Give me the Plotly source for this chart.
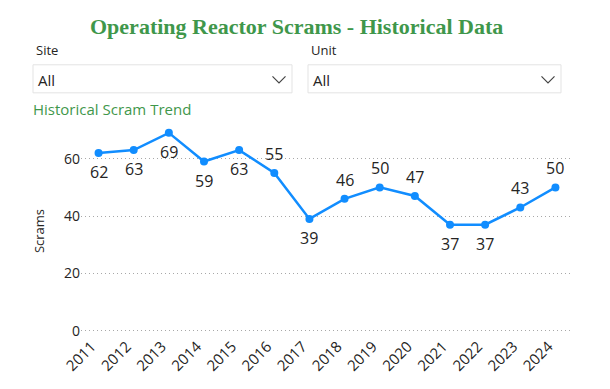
import plotly.graph_objects as go

years = ["2011", "2012", "2013", "2014", "2015", "2016", "2017",
         "2018", "2019", "2020", "2021", "2022", "2023", "2024"]
scrams = [62, 63, 69, 59, 63, 55, 39, 46, 50, 47, 37, 37, 43, 50]
label_side = ["below", "below", "below", "below", "below", "above", "below",
              "above", "above", "above", "below", "below", "above", "above"]

# page body has an 8px margin; work in screenshot pixels and convert
OFF = 8
W, H = 610 - OFF, 389 - OFF
YMIN, YMAX = -0.4, 70
L, R = 81 - OFF, 610 - 573
T = 130.1 - OFF
B = H - (331.75 - OFF)
pw, ph = W - L - R, H - T - B

def px(x):
    return (x - OFF - L) / pw

def py(y):
    return (H - B - (y - OFF)) / ph

GREEN = "#3f974b"
TXT = "#252423"
FONT = "Open Sans, Noto Sans, sans-serif"

fig = go.Figure()
fig.add_trace(go.Scatter(
    x=years, y=scrams, mode="lines+markers",
    line=dict(color="#118DFF", width=2.5),
    marker=dict(color="#118DFF", size=8),
    cliponaxis=False, hoverinfo="x+y",
))

shapes = []
annotations = []

# data labels (category axis: position by category index)
for i, (v, side) in enumerate(zip(scrams, label_side)):
    annotations.append(dict(x=i, y=v, xref="x", yref="y", text=str(v),
                            showarrow=False, xanchor="center", yanchor="middle",
                            yshift=19 if side == "above" else -19,
                            font=dict(family=FONT, size=16, color=TXT)))

# Title
annotations.append(dict(text="<b>Operating Reactor Scrams - Historical Data</b>",
                        x=px(296), y=py(27), xref="paper", yref="paper",
                        showarrow=False, xanchor="center", yanchor="middle",
                        font=dict(family="Liberation Serif, serif", size=22, color=GREEN)))
# Slicer labels
for lbl, x0 in (("Site", 34), ("Unit", 309)):
    annotations.append(dict(text=lbl, x=px(x0), y=py(50), xref="paper", yref="paper",
                            showarrow=False, xanchor="left", yanchor="middle",
                            font=dict(family=FONT, size=13, color=TXT)))
# Slicer boxes
for x0, x1 in ((33, 292), (308, 561)):
    shapes.append(dict(type="rect", xref="paper", yref="paper",
                       x0=px(x0), x1=px(x1), y0=py(93), y1=py(65),
                       line=dict(color="#e3e3e3", width=1), fillcolor="white"))
    annotations.append(dict(text="All", x=px(x0 + 3), y=py(80), xref="paper", yref="paper",
                            showarrow=False, xanchor="left", yanchor="middle",
                            font=dict(family=FONT, size=15, color=TXT)))
    cx = x1 - 13
    shapes.append(dict(type="path", xref="paper", yref="paper",
                       path=f"M {px(cx-6.5)} {py(76.5)} L {px(cx)} {py(83)} L {px(cx+6.5)} {py(76.5)}",
                       line=dict(color="#444444", width=1.2)))
# Subtitle
annotations.append(dict(text="Historical Scram Trend", x=px(31), y=py(109),
                        xref="paper", yref="paper", showarrow=False,
                        xanchor="left", yanchor="middle",
                        font=dict(family=FONT, size=15, color=GREEN)))

fig.update_layout(
    width=W, height=H, autosize=False,
    margin=dict(l=L, r=R, t=T, b=B, pad=0),
    paper_bgcolor="white", plot_bgcolor="white",
    showlegend=False,
    shapes=shapes, annotations=annotations,
    xaxis=dict(type="category", tickangle=-45, showgrid=False, showline=False,
               zeroline=False, ticks="", tickfont=dict(family=FONT, size=15, color=TXT),
               ticklabelshift=-7, ticklabelstandoff=2,
               range=[-0.5, len(years) - 0.5]),
    yaxis=dict(range=[YMIN, YMAX], tickvals=[0, 20, 40, 60], showgrid=True,
               gridcolor="#a8a8a8", griddash="1px,3px", gridwidth=1,
               zeroline=False, showline=False, ticks="",
               tickfont=dict(family=FONT, size=14, color=TXT),
               title=dict(text="Scrams", font=dict(family=FONT, size=13, color=TXT),
                          standoff=16)),
)

fig.write_html("out.html")
